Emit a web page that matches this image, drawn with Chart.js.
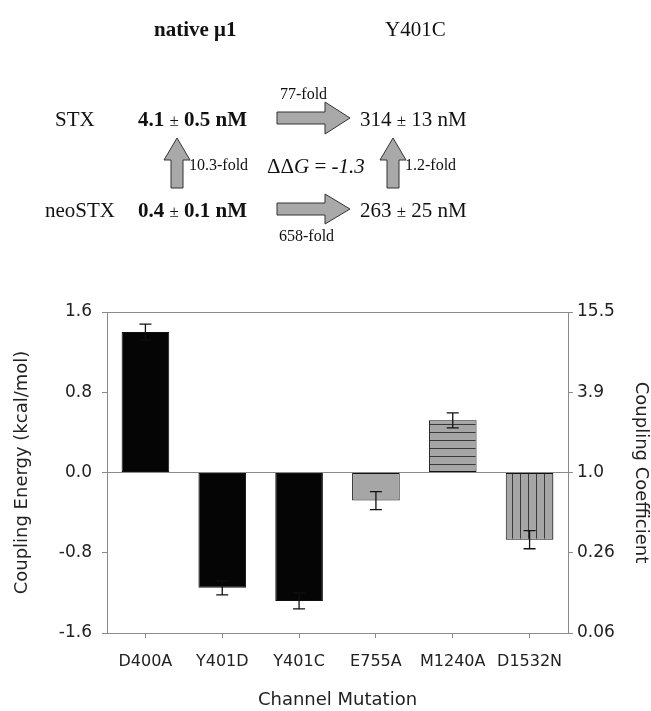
<!DOCTYPE html>
<html>
<head>
<meta charset="utf-8">
<script src="https://cdn.jsdelivr.net/npm/chart.js@4"></script>
<style>
  html, body { margin: 0; padding: 0; background: #fff; }
  #wrap { position: relative; width: 651px; height: 711px; overflow: hidden; }
  #chart { position: absolute; left: 0; top: 0; }
  #scheme { position: absolute; left: 0; top: 0; width: 651px; height: 260px; pointer-events: none; }
  .t { position: absolute; font-family: "Liberation Serif", "Times New Roman", serif; font-size: 21px;
       color: #111; white-space: nowrap; line-height: 1; transform: translateY(-50%); }
  .b { font-weight: bold; }
  .s { font-size: 16px; }
  .pm { font-weight: normal; font-size: 17px; }
</style>
</head>
<body>
<div id="wrap">
  <canvas id="chart" width="651" height="711"></canvas>
  <div id="scheme">
    <svg width="651" height="260" style="position:absolute;left:0;top:0">
      <g fill="#a9a9a9" stroke="#333" stroke-width="1">
        <polygon points="277,112 325,112 325,102 350,118 325,134 325,124 277,124"/>
        <polygon points="277,203 325,203 325,194 350,209 325,224 325,215 277,215"/>
        <polygon points="171,188 171,160 164,160 177,138 190,160 183,160 183,188"/>
        <polygon points="387,188 387,160 380,160 393,138 406,160 399,160 399,188"/>
      </g>
    </svg>
    <div class="t b" style="left:154px;top:29px">native &mu;1</div>
    <div class="t" style="left:385px;top:29px">Y401C</div>
    <div class="t" style="left:55px;top:119px">STX</div>
    <div class="t b" style="left:138px;top:119px">4.1 <span class="pm">&plusmn;</span> 0.5 nM</div>
    <div class="t s" style="left:280px;top:94px">77-fold</div>
    <div class="t" style="left:360px;top:119px">314 <span class="pm">&plusmn;</span> 13 nM</div>
    <div class="t s" style="left:189px;top:165px">10.3-fold</div>
    <div class="t" style="left:267px;top:166px">&Delta;&Delta;<i>G</i> = <i>-1.3</i></div>
    <div class="t s" style="left:405px;top:165px">1.2-fold</div>
    <div class="t" style="left:45px;top:210px">neoSTX</div>
    <div class="t b" style="left:138px;top:210px">0.4 <span class="pm">&plusmn;</span> 0.1 nM</div>
    <div class="t" style="left:360px;top:210px">263 <span class="pm">&plusmn;</span> 25 nM</div>
    <div class="t s" style="left:279px;top:236px">658-fold</div>
  </div>
</div>
<script>
const categories = ['D400A', 'Y401D', 'Y401C', 'E755A', 'M1240A', 'D1532N'];
const couplingEnergy = [1.40, -1.15, -1.28, -0.28, 0.52, -0.67];
const energyError = [0.08, 0.07, 0.08, 0.09, 0.075, 0.09];
const leftTicks = [-1.6, -0.8, 0.0, 0.8, 1.6];
const rightTickLabels = ['0.06', '0.26', '1.0', '3.9', '15.5'];

const AXIS = '#8a8a8a';
const GRAY = '#a6a6a6';

function stripes(horizontal) {
  const c = document.createElement('canvas');
  c.width = 8; c.height = 8;
  const g = c.getContext('2d');
  g.fillStyle = GRAY;
  g.fillRect(0, 0, 8, 8);
  g.fillStyle = '#3a3a3a';
  if (horizontal) g.fillRect(0, 0, 8, 1); else g.fillRect(0, 0, 1, 8);
  return g.createPattern(c, 'repeat');
}
const hLines = stripes(true);
const vLines = stripes(false);

function barFill(ctx) {
  const i = ctx.dataIndex;
  if (i < 3) return '#050505';
  if (i === 3) return GRAY;
  if (i === 4) return hLines;
  return vLines;
}

const errorBars = {
  id: 'errorBars',
  afterDatasetsDraw(chart) {
    const meta = chart.getDatasetMeta(0);
    const y = chart.scales.y;
    const c = chart.ctx;
    c.save();
    c.strokeStyle = '#111';
    c.lineWidth = 1.3;
    meta.data.forEach((bar, i) => {
      const v = couplingEnergy[i], e = energyError[i];
      const y1 = y.getPixelForValue(v + e), y2 = y.getPixelForValue(v - e);
      c.beginPath();
      c.moveTo(bar.x, y1); c.lineTo(bar.x, y2);
      c.moveTo(bar.x - 6, y1); c.lineTo(bar.x + 6, y1);
      c.moveTo(bar.x - 6, y2); c.lineTo(bar.x + 6, y2);
      c.stroke();
    });
    c.restore();
  }
};

const tickFont = { family: 'DejaVu Sans', size: 17 };
const titleFont = { family: 'DejaVu Sans', size: 18 };

new Chart(document.getElementById('chart'), {
  type: 'bar',
  data: {
    labels: categories,
    datasets: [{
      data: couplingEnergy,
      backgroundColor: barFill,
      borderColor: '#111',
      borderWidth: 1,
      borderSkipped: false,
      barPercentage: 0.62,
      categoryPercentage: 1.0
    }]
  },
  options: {
    responsive: false,
    animation: false,
    devicePixelRatio: 1,
    layout: { padding: { top: 312, left: 0, right: 0, bottom: 0 } },
    plugins: { legend: { display: false }, tooltip: { enabled: false } },
    scales: {
      x: {
        afterFit: s => { s.height = 78; },
        grid: { offset: false, drawOnChartArea: false, tickLength: 5, tickColor: AXIS },
        border: { color: AXIS },
        ticks: { color: '#222', font: { family: 'DejaVu Sans', size: 16 }, padding: 14 },
        title: { display: true, text: 'Channel Mutation', color: '#222', font: titleFont, padding: { top: 0, bottom: 0 } }
      },
      y: {
        position: 'left',
        min: -1.6, max: 1.6,
        afterFit: s => { s.width = 107; },
        afterBuildTicks: s => { s.ticks = leftTicks.map(v => ({ value: v })); },
        grid: {
          color: ctx => (Math.abs(ctx.tick.value) < 1e-9 || Math.abs(ctx.tick.value - 1.6) < 1e-9) ? AXIS : 'rgba(0,0,0,0)',
          tickColor: AXIS, tickLength: 5
        },
        border: { color: AXIS },
        ticks: { color: '#222', font: tickFont, padding: 10, callback: v => v.toFixed(1) },
        title: { display: true, text: 'Coupling Energy (kcal/mol)', color: '#222', font: titleFont, padding: { top: 12, bottom: 0 } }
      },
      y1: {
        position: 'right',
        min: -1.6, max: 1.6,
        afterFit: s => { s.width = 83; },
        afterBuildTicks: s => { s.ticks = leftTicks.map(v => ({ value: v })); },
        grid: { drawOnChartArea: false, tickColor: AXIS, tickLength: 5 },
        border: { color: AXIS },
        ticks: { color: '#222', font: tickFont, padding: 4, callback: (v, i) => rightTickLabels[i] },
        title: { display: true, text: 'Coupling Coefficient', color: '#222', font: titleFont, padding: { top: 0, bottom: 0 } }
      }
    }
  },
  plugins: [errorBars]
});
</script>
</body>
</html>
